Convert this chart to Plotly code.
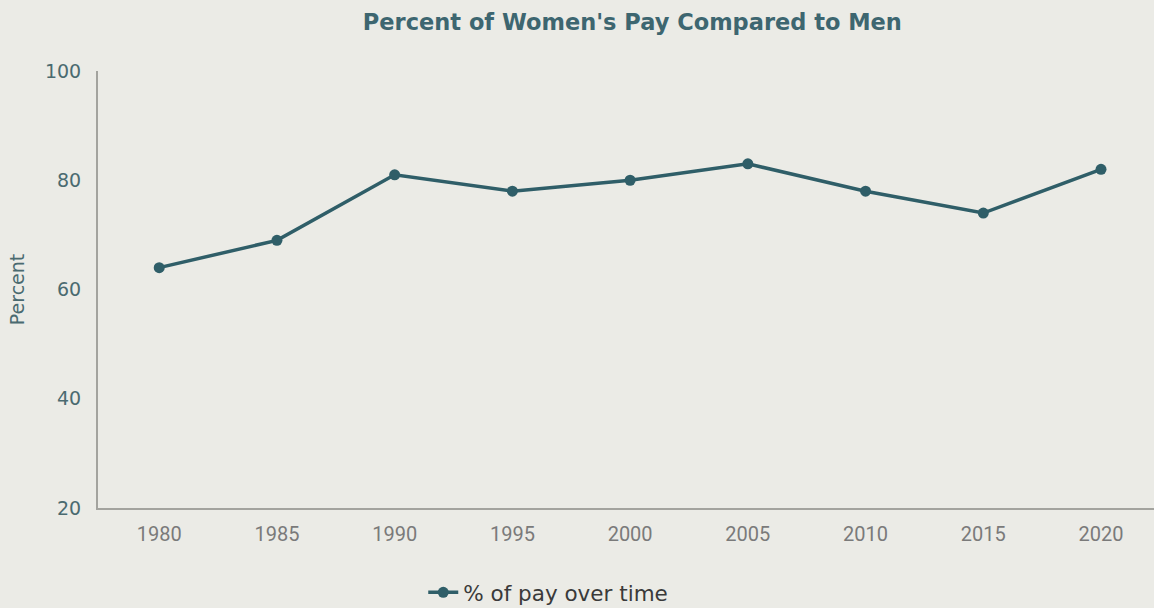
import plotly.graph_objects as go

years = [1980, 1985, 1990, 1995, 2000, 2005, 2010, 2015, 2020]
pay_pct = [64, 69, 81, 78, 80, 83, 78, 74, 82]
y_ticks = [20, 40, 60, 80, 100]

line_color = "#2F5E68"
bg = "#EBEBE6"

fig = go.Figure()
fig.add_trace(go.Scatter(
    x=years, y=pay_pct, mode="lines+markers", name="% of pay over time",
    line=dict(color=line_color, width=3.5),
    marker=dict(color=line_color, size=11),
))

fig.update_layout(
    width=1154, height=608,
    paper_bgcolor=bg, plot_bgcolor=bg,
    margin=dict(l=98, r=0, t=71, b=100, autoexpand=False),
    title=dict(text="<b>Percent of Women's Pay Compared to Men</b>",
               x=0.548, xanchor="center", y=0.963, yanchor="middle",
               font=dict(family="DejaVu Sans", size=22.5, color="#3D6670")),
    showlegend=True,
    legend=dict(orientation="h", x=0.308, xanchor="left", y=-0.193, yanchor="middle",
                font=dict(family="DejaVu Sans", size=21.5, color="#3A3A3A"),
                bgcolor="rgba(0,0,0,0)", itemwidth=30),
    font=dict(family="DejaVu Sans"),
)
fig.update_xaxes(
    range=[1977.4, 2022.25], tickvals=years, ticktext=[str(y) for y in years],
    showgrid=False, zeroline=False, showline=True, linecolor="#A3A39E", linewidth=2,
    ticks="", ticklabelstandoff=7,
    tickfont=dict(family="Roboto", size=20, color="#7A7A7A"),
)
fig.update_yaxes(
    range=[20, 100], tickvals=y_ticks,
    showgrid=False, zeroline=False, showline=True, linecolor="#A3A39E", linewidth=2,
    ticks="", ticklabelstandoff=11,
    tickfont=dict(family="DejaVu Sans", size=19, color="#4A6A70"),
    title=dict(text="Percent", font=dict(family="DejaVu Sans", size=19, color="#4A6A70"), standoff=15),
)

fig.write_html("out.html", config={"displayModeBar": False},
               post_script="document.body.style.margin='0';document.body.style.overflow='hidden';")
